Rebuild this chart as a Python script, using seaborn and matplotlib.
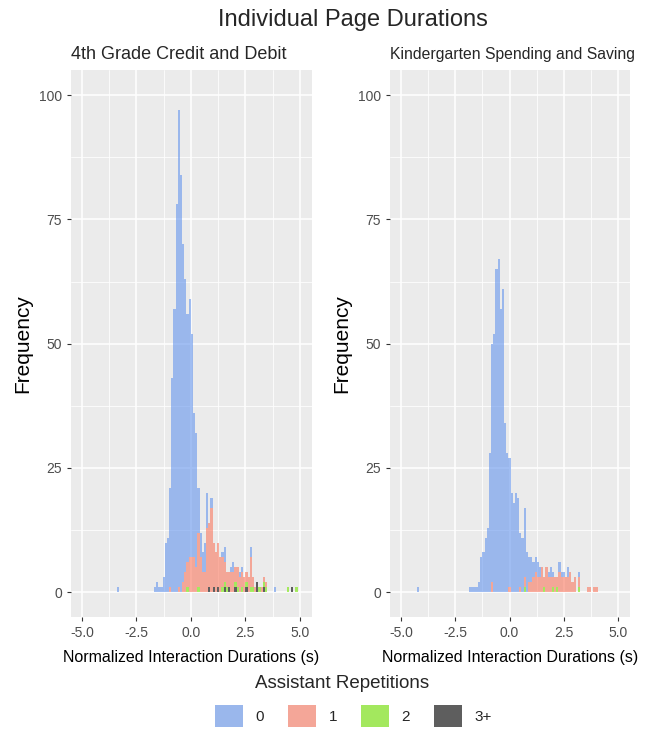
import pandas as pd
import matplotlib.pyplot as plt
import seaborn as sns
from matplotlib.patches import Patch
from matplotlib.ticker import MultipleLocator, FormatStrFormatter

# Histogram counts, bin width 0.1, one value per bin
groups = ['0', '1', '2', '3+']
BIN = 0.1

# 4th Grade Credit and Debit: first bin starts at -1.7
cd_start = -1.7
cd_n0 = [1, 2, 1, 1, 3, 10, 11, 20, 43, 57,
         78, 96, 84, 68, 59, 50, 52, 45, 29, 27,
         9, 5, 4, 6, 7, 0, 2, 0, 0, 0,
         0, 1, 3, 0, 0, 1, 2, 0, 0, 1,
         1, 0, 0, 0, 2, 0, 0, 0, 0, 0,
         0, 0, 0, 0, 0, 1, 0, 0, 0, 0,
         0, 0, 0, 0, 0, 0]
cd_n1 = [0, 0, 0, 0, 0, 0, 0, 1, 0, 0,
         0, 1, 0, 2, 4, 5, 7, 7, 7, 5,
         11, 7, 4, 4, 13, 13, 17, 9, 8, 9,
         7, 6, 4, 3, 3, 4, 4, 3, 4, 3,
         3, 3, 2, 3, 6, 2, 1, 0, 0, 1,
         1, 1, 0, 0, 0, 0, 0, 0, 0, 0,
         0, 0, 0, 0, 0, 0]
cd_n2 = [0, 0, 0, 0, 0, 0, 0, 0, 0, 0,
         0, 0, 0, 0, 0, 1, 0, 0, 0, 0,
         1, 0, 0, 0, 0, 0, 0, 0, 0, 0,
         0, 1, 1, 1, 0, 0, 0, 1, 1, 0,
         1, 0, 1, 0, 1, 1, 0, 0, 1, 0,
         1, 1, 0, 0, 0, 0, 0, 0, 0, 0,
         0, 1, 0, 0, 0, 1]
cd_n3 = [0, 0, 0, 0, 0, 0, 0, 0, 0, 0,
         0, 0, 0, 0, 0, 0, 0, 0, 0, 0,
         0, 0, 0, 0, 0, 1, 0, 1, 0, 1,
         0, 0, 1, 0, 1, 0, 0, 1, 0, 0,
         0, 0, 1, 0, 0, 0, 0, 2, 0, 0,
         1, 0, 0, 0, 0, 0, 0, 0, 0, 0,
         0, 0, 0, 1, 0, 0]
cd_outlier = -3.35   # lone "0" observation

# Kindergarten Spending and Saving: first bin starts at -1.85
ks_start = -1.85
ks_n0 = [1, 1, 1, 1, 2, 7, 8, 11, 13, 28,
         48, 52, 65, 67, 57, 61, 34, 28, 26, 20,
         18, 20, 19, 11, 11, 14, 8, 5, 5, 3,
         3, 3, 2, 0, 0, 0, 1, 2, 1, 0,
         0, 2, 1, 1, 0, 2, 0, 0, 0, 0,
         1, 0, 0, 0, 0, 0, 0, 0, 0]
ks_n1 = [0, 0, 0, 0, 0, 0, 0, 0, 0, 0,
         2, 0, 0, 0, 0, 0, 0, 0, 1, 0,
         0, 0, 0, 1, 0, 2, 0, 2, 2, 3,
         4, 3, 3, 5, 2, 5, 3, 3, 2, 3,
         2, 4, 3, 3, 3, 3, 4, 2, 3, 0,
         2, 0, 0, 0, 1, 1, 0, 1, 1]
ks_n2 = [0, 0, 0, 0, 0, 0, 0, 0, 0, 0,
         0, 0, 0, 0, 0, 0, 0, 0, 0, 0,
         0, 0, 0, 0, 0, 1, 0, 0, 0, 0,
         0, 0, 0, 0, 1, 0, 0, 0, 1, 0,
         1, 0, 0, 0, 0, 0, 0, 0, 0, 0,
         1, 0, 0, 0, 0, 0, 0, 0, 0]
ks_n3 = [0] * len(ks_n0)
ks_outlier = -4.2

titles = ['4th Grade Credit and Debit', 'Kindergarten Spending and Saving']
fill = {'0': '#6495ED', '1': '#FA7860', '2': '#73E600', '3+': '#000000'}
ALPHA = 0.6


def build_frame(start, counts, outlier):
    rows = []
    for g, col in zip(groups, counts):
        for i, n in enumerate(col):
            if n > 0:
                rows.append({'x': round(start + i * BIN + BIN / 2, 3), 'n': n, 'group': g})
    rows.append({'x': outlier, 'n': 1, 'group': '0'})
    return pd.DataFrame(rows)


cd_df = build_frame(cd_start, [cd_n0, cd_n1, cd_n2, cd_n3], cd_outlier)
ks_df = build_frame(ks_start, [ks_n0, ks_n1, ks_n2, ks_n3], ks_outlier)

sns.set_theme(style='darkgrid')
plt.rcParams['font.family'] = ['Liberation Sans', 'DejaVu Sans']
plt.rcParams['axes.unicode_minus'] = False

fig = plt.figure(figsize=(6.51, 7.32), dpi=100)
ax1 = fig.add_axes([0.109, 0.157, 0.370, 0.747])
ax2 = fig.add_axes([0.599, 0.157, 0.369, 0.747])

panels = [(ax1, cd_df, (-4.5, 5.0), 13),
          (ax2, ks_df, (-4.55, 4.95), 11.3)]

for (ax, df, brange, tsize), title in zip(panels, titles):
    sns.histplot(data=df, x='x', weights='n', hue='group', hue_order=groups,
                 multiple='stack', binwidth=BIN, binrange=brange,
                 palette=fill, alpha=ALPHA, linewidth=0, legend=False, ax=ax)
    ax.set_facecolor('#EBEBEB')
    ax.set_xlim(-5.5, 5.55)
    ax.set_ylim(-5.0, 105.0)
    ax.xaxis.set_major_locator(MultipleLocator(2.5))
    ax.xaxis.set_minor_locator(MultipleLocator(1.25))
    ax.yaxis.set_major_locator(MultipleLocator(25))
    ax.yaxis.set_minor_locator(MultipleLocator(12.5))
    ax.xaxis.set_major_formatter(FormatStrFormatter('%.1f'))
    ax.set_axisbelow(True)
    ax.grid(which='major', color='white', linewidth=1.1)
    ax.grid(which='minor', color='white', linewidth=0.55)
    for s in ax.spines.values():
        s.set_visible(False)
    ax.tick_params(which='major', length=3, width=0.8, color='#333333',
                   labelcolor='#4D4D4D', labelsize=10, pad=3.5)
    ax.tick_params(which='minor', length=0)
    ax.tick_params(axis='both', which='major', bottom=True, left=True)
    ax.set_xlabel('Normalized Interaction Durations (s)', fontsize=11.5,
                  color='black', labelpad=7)
    ax.set_ylabel('Frequency', fontsize=15, color='black', labelpad=5)
    ax.set_title(title, loc='left', fontsize=tsize, pad=8)

fig.text(0.542, 0.988, 'Individual Page Durations', ha='center', va='top', fontsize=17)

# legend: title drawn separately so its gap to the keys matches
fig.text(0.526, 0.0656, 'Assistant Repetitions', ha='center', va='center', fontsize=13.5)
legend_colors = ['#9AB7EC', '#F4A698', '#A3E85E', '#5E5E5E']
handles = [Patch(facecolor=c, edgecolor='none') for c in legend_colors]
fig.legend(handles, groups, loc='center', bbox_to_anchor=(0.543, 0.0219), ncol=4,
           fontsize=11, frameon=False, handlelength=1.85, handleheight=1.85,
           handletextpad=0.8, columnspacing=1.57)

fig.savefig('out.png', dpi=100)
